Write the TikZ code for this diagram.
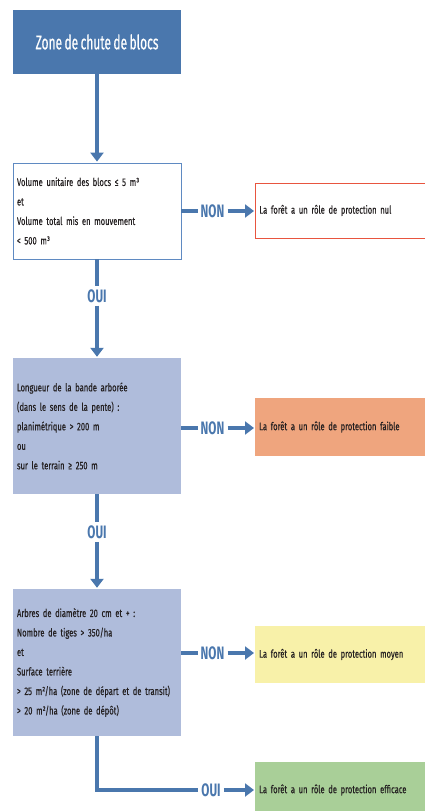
\documentclass[tikz,border=0pt]{standalone}
\usepackage{fontspec}
\setmainfont{Fira Sans}[FakeStretch=0.69, FakeBold=0.35, WordSpace={0.7}]
\newfontfamily\titlefont{Fira Sans}[FakeStretch=0.6, FakeBold=0.3, WordSpace={0.75}]
\newfontfamily\verdictfont{Fira Sans}[FakeStretch=0.65]
\usetikzlibrary{arrows.meta}

\definecolor{flowblue}{HTML}{4A77AD}
\definecolor{boxblue}{HTML}{AFBCDB}
\definecolor{lineblue}{HTML}{5F8AC2}
\definecolor{nulred}{HTML}{E8553F}
\definecolor{faibleorange}{HTML}{EFA57E}
\definecolor{moyenyellow}{HTML}{F8F1A9}
\definecolor{efficacegreen}{HTML}{A9CF98}
\definecolor{textdark}{HTML}{231F20}

\tikzset{
  flow/.style={draw=flowblue, line width=4.5pt},
  flowarrow/.style={flow, -{Triangle[width=13pt,length=9pt]}, shorten >=1pt},
  question/.style={minimum width=168pt, text width=160pt, inner sep=4pt, align=left,
    text=textdark, font=\fontsize{11}{19.5}\selectfont},
  answer/.style={anchor=west, minimum width=172pt, text width=164pt, inner sep=4pt, align=left,
    text=textdark, font=\fontsize{11}{13}\selectfont},
  verdict/.style={text=flowblue, inner sep=3pt, font=\verdictfont\fontsize{18}{18}\selectfont\bfseries}
}

\begin{document}
\begin{tikzpicture}[x=1pt,y=-1pt]
    \useasboundingbox (0,0) rectangle (425,811);

    %% start of the decision chain
    \node[fill=flowblue, text=white, minimum width=168pt, minimum height=64pt,
      font=\titlefont\fontsize{20}{20}\selectfont] (zone) at (97,42) {Zone de chute de blocs};

    %% first test: volumes
    \node[question, draw=lineblue, line width=0.8pt, minimum height=96pt] (volume) at (97,211)
      {Volume unitaire des blocs ≤ 5 m³\\et\\Volume total mis en mouvement\\< 500 m³};
    \node[verdict] (non1) at (212.5,211) {NON};
    \node[answer, draw=nulred, line width=0.8pt, fill=white, minimum height=55pt] (nul) at (255,210.5)
      {La forêt a un rôle de protection nul};
    \node[verdict] (oui1) at (97,296) {OUI};

    %% second test: length of the wooded strip
    \node[question, fill=boxblue, minimum height=136pt] (bande) at (97,426)
      {Longueur de la bande arborée\\(dans le sens de la pente) :\\planimétrique > 200 m\\ou\\sur le terrain ≥ 250 m};
    \node[verdict] (non2) at (212.5,428) {NON};
    \node[answer, fill=faibleorange, minimum height=58pt] (faible) at (255,427)
      {La forêt a un rôle de protection faible};
    \node[verdict] (oui2) at (97,532) {OUI};

    %% third test: stand density
    \node[question, fill=boxblue, minimum height=147pt] (arbres) at (97,662.5)
      {Arbres de diamètre 20 cm et + :\\Nombre de tiges > 350/ha\\et\\Surface terrière\\> 25 m²/ha (zone de départ et de transit)\\> 20 m²/ha (zone de dépôt)};
    \node[verdict] (non3) at (212.5,653) {NON};
    \node[answer, fill=moyenyellow, minimum height=57pt] (moyen) at (255,654.5)
      {La forêt a un rôle de protection moyen};
    \node[verdict] (oui3) at (211,790) {OUI};
    \node[answer, fill=efficacegreen, minimum height=56pt] (efficace) at (255,790)
      {La forêt a un rôle de protection efficace};

    %% connectors
    \draw[flowarrow] (zone) -- (volume);
    \draw[flow] (volume.east |- non1) -- (non1);
    \draw[flowarrow] (non1) -- (non1 -| nul.west);
    \draw[flow] (volume) -- (oui1);
    \draw[flowarrow] (oui1) -- (bande);
    \draw[flow] (bande.east |- non2) -- (non2);
    \draw[flowarrow] (non2) -- (non2 -| faible.west);
    \draw[flow] (bande) -- (oui2);
    \draw[flowarrow] (oui2) -- (arbres);
    \draw[flow] (arbres.east |- non3) -- (non3);
    \draw[flowarrow] (non3) -- (non3 -| moyen.west);
    \draw[flow] (arbres.south) |- (oui3);
    \draw[flowarrow] (oui3) -- (efficace);
\end{tikzpicture}
\end{document}
